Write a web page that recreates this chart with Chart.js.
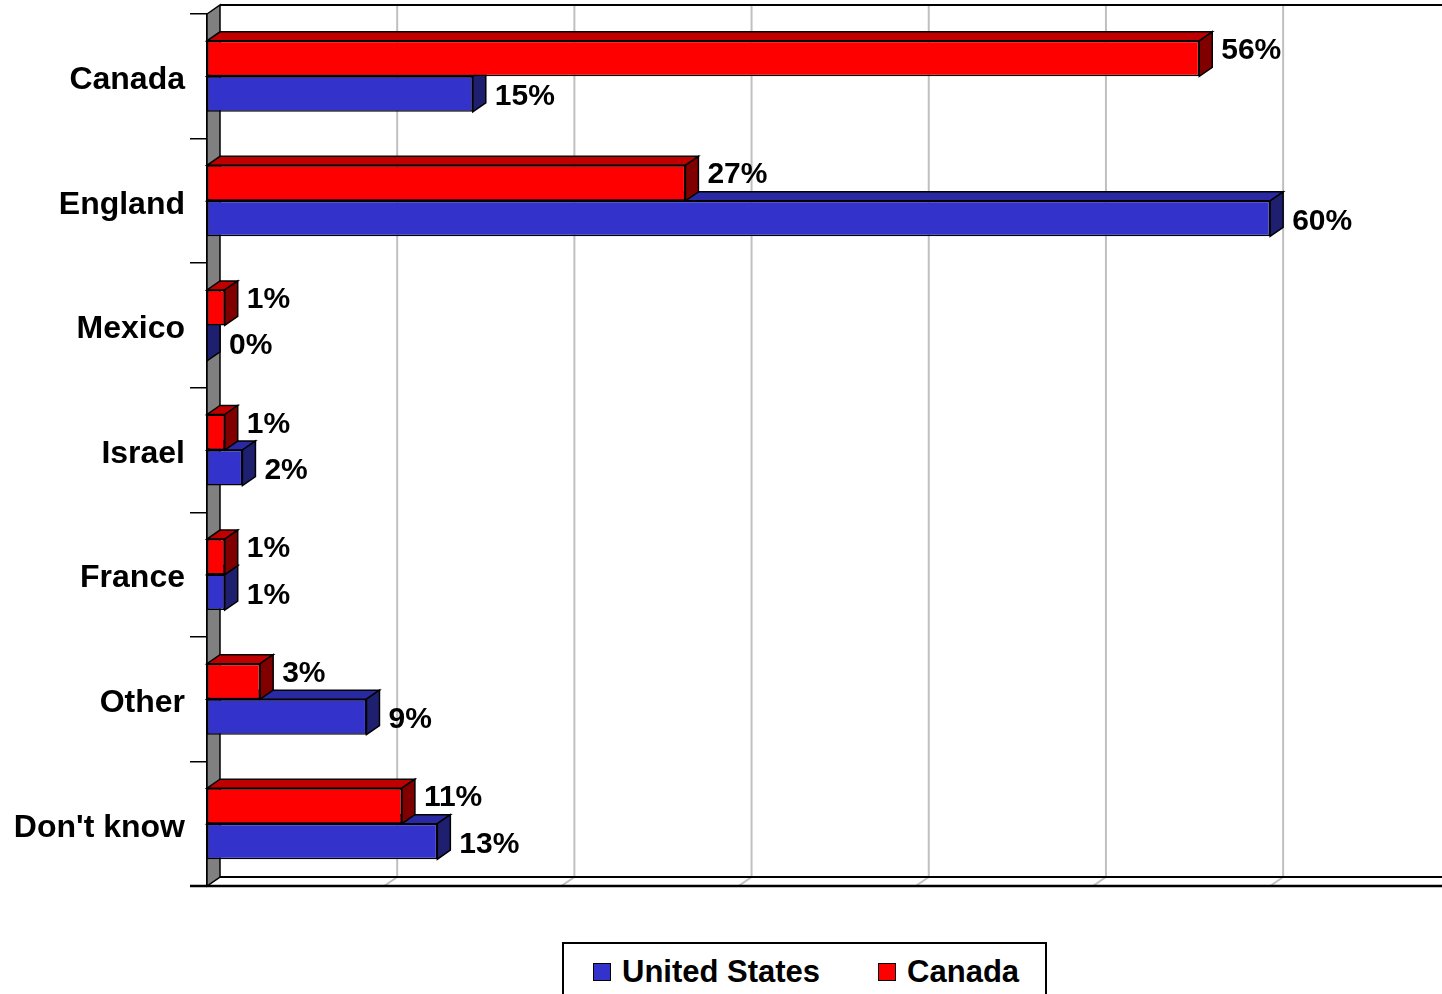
<!DOCTYPE html>
<html lang="en">
<head>
  <meta charset="UTF-8" />
  <title>Country chart</title>
  <script src="https://cdn.jsdelivr.net/npm/chart.js"></script>
  <style>
    * {
      box-sizing: border-box;
      margin: 0;
      padding: 0;
    }

    body {
      background: #fff;
      width: 1442px;
      height: 994px;
      overflow: hidden;
      font-family: 'Liberation Sans', Arial, sans-serif;
    }

    .chart-wrap {
      position: relative;
      width: 1442px;
      height: 994px;
    }

    .legend {
      position: absolute;
      left: 562px;
      top: 942px;
      width: 485px;
      height: 70px;
      border: 2px solid #000;
      background: #fff;
      display: flex;
      align-items: flex-start;
      padding-top: 10px;
      padding-left: 29px;
      font-weight: bold;
      font-size: 31px;
      color: #000;
      white-space: nowrap;
    }

    .legend span.item {
      display: flex;
      align-items: center;
      flex-shrink: 0;
      margin-right: 58px;
    }

    .legend span.box {
      display: inline-block;
      flex-shrink: 0;
      width: 18px;
      height: 18px;
      border: 1px solid #000;
      margin-right: 11px;
    }
  </style>
</head>
<body>

<div class="chart-wrap">
  <canvas id="chart"></canvas>
  <div class="legend" id="legend"></div>
</div>

<script>
  const categories = ['Canada', 'England', 'Mexico', 'Israel', 'France', 'Other', "Don't know"];
  const usValues = [15, 60, 0, 2, 1, 9, 13];
  const canadaValues = [56, 27, 1, 1, 1, 3, 11];
  const seriesNames = ['United States', 'Canada'];
  const gridSteps = [10, 20, 30, 40, 50, 60];

  // front / top / side colours for each series
  const blue = { front: '#3333cc', top: '#2929a3', side: '#1f1f70' };
  const red = { front: '#ff0000', top: '#c00000', side: '#800000' };

  const DX = 13;
  const DY = -9;

  function poly(ctx, pts, fill) {
    ctx.beginPath();
    ctx.moveTo(pts[0][0], pts[0][1]);
    for (let i = 1; i < pts.length; i++) ctx.lineTo(pts[i][0], pts[i][1]);
    ctx.closePath();
    ctx.fillStyle = fill;
    ctx.fill();
    ctx.stroke();
  }

  const threeD = {
    id: 'threeD',
    beforeDatasetsDraw(chart) {
      const ctx = chart.ctx;
      const { left, right, top, bottom } = chart.chartArea;
      const xs = chart.scales.x;
      ctx.save();

      // back wall gridlines and their floor diagonals
      ctx.strokeStyle = '#c0c0c0';
      ctx.lineWidth = 2;
      gridSteps.forEach(v => {
        const px = xs.getPixelForValue(v);
        ctx.beginPath();
        ctx.moveTo(px + DX, top + DY);
        ctx.lineTo(px + DX, bottom + DY);
        ctx.lineTo(px, bottom);
        ctx.stroke();
      });

      ctx.strokeStyle = '#000';
      ctx.lineWidth = 2;
      ctx.beginPath();
      ctx.moveTo(left + DX, top + DY);
      ctx.lineTo(right, top + DY);
      ctx.moveTo(left + DX, bottom + DY);
      ctx.lineTo(right, bottom + DY);
      ctx.stroke();

      ctx.lineWidth = 2.5;
      ctx.beginPath();
      ctx.moveTo(left - 17, bottom);
      ctx.lineTo(right, bottom);
      ctx.stroke();

      // grey side wall
      ctx.lineWidth = 1.5;
      poly(ctx, [[left, top], [left + DX, top + DY], [left + DX, bottom + DY], [left, bottom]], '#808080');

      // top and side faces of the bars, lower series first
      const styles = [red, blue];
      [1, 0].forEach(di => {
        const meta = chart.getDatasetMeta(di);
        meta.data.forEach(bar => {
          const { x, y, base, height } = bar.getProps(['x', 'y', 'base', 'height'], true);
          const yt = y - height / 2;
          const yb = y + height / 2;
          ctx.lineWidth = 1.5;
          ctx.strokeStyle = '#000';
          if (x > base) {
            poly(ctx, [[base, yt], [x, yt], [x + DX, yt + DY], [base + DX, yt + DY]], styles[di].top);
          }
          poly(ctx, [[x, yt], [x + DX, yt + DY], [x + DX, yb + DY], [x, yb]], styles[di].side);
        });
      });
      ctx.restore();
    },
    afterDatasetsDraw(chart) {
      const ctx = chart.ctx;
      ctx.save();
      ctx.fillStyle = '#000';
      ctx.font = "bold 30px 'Liberation Sans', Arial, sans-serif";
      ctx.textAlign = 'left';
      ctx.textBaseline = 'middle';
      chart.data.datasets.forEach((ds, di) => {
        chart.getDatasetMeta(di).data.forEach((bar, i) => {
          const { x, y } = bar.getProps(['x', 'y'], true);
          const shift = di === 0 ? -8 : 3;
          ctx.fillText(ds.data[i] + '%', x + DX + 9, y + shift);
        });
      });
      ctx.restore();
    }
  };

  const ctx = document.getElementById('chart').getContext('2d');

  new Chart(ctx, {
    type: 'bar',
    data: {
      labels: categories,
      datasets: [
        {
          label: seriesNames[1],
          data: canadaValues,
          backgroundColor: red.front
        },
        {
          label: seriesNames[0],
          data: usValues,
          backgroundColor: blue.front
        }
      ]
    },
    options: {
      indexAxis: 'y',
      responsive: true,
      maintainAspectRatio: false,
      animation: false,
      layout: {
        padding: { top: 14, right: 0, bottom: 0, left: 0 }
      },
      datasets: {
        bar: {
          categoryPercentage: 0.57,
          barPercentage: 1.0,
          borderWidth: 1.5,
          borderColor: '#000',
          borderSkipped: false
        }
      },
      scales: {
        x: {
          min: 0,
          max: 69.7,
          ticks: { display: false },
          grid: { display: false },
          border: { display: false },
          afterFit: s => { s.height = 108; }
        },
        y: {
          grid: {
            display: true,
            drawOnChartArea: false,
            drawTicks: true,
            tickLength: 17,
            color: '#000',
            lineWidth: 1.5,
            offset: true
          },
          border: { display: true, color: '#000', width: 1.5 },
          ticks: {
            color: '#000',
            padding: 5,
            labelOffset: 4,
            font: { family: "'Liberation Sans', Arial, sans-serif", size: 32, weight: 'bold', lineHeight: 0.55 }
          },
          afterFit: s => { s.width = 207; }
        }
      },
      plugins: {
        legend: { display: false },
        tooltip: { enabled: false }
      }
    },
    plugins: [threeD]
  });

  // legend below the plot
  const legend = document.getElementById('legend');
  [[seriesNames[0], blue.front], [seriesNames[1], red.front]].forEach(([name, color]) => {
    legend.innerHTML += `<span class="item"><span class="box" style="background:${color}"></span>${name}</span>`;
  });
</script>

</body>
</html>
